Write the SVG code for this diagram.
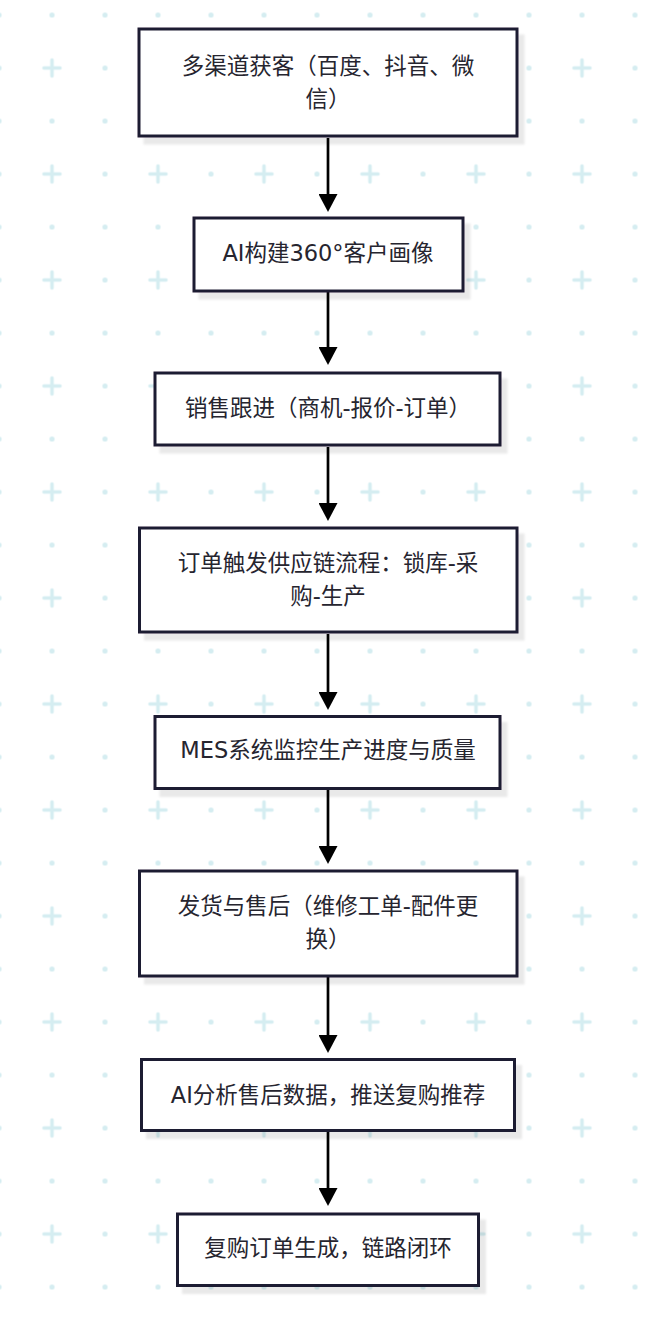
<svg xmlns="http://www.w3.org/2000/svg" width="648" height="1326" viewBox="0 0 648 1326">
<style>
.node rect{fill:#ffffff;stroke:#1f1d33;stroke-width:3;filter:url(#sh)}
.node text{font-family:"DejaVu Sans","Noto Sans CJK SC",sans-serif;font-size:22.5px;fill:#26252f;text-anchor:middle;dominant-baseline:central}
.edge{stroke:#000000;stroke-width:2.7;fill:none;marker-end:url(#arr)}
</style>
<defs>
<pattern id="bg" patternUnits="userSpaceOnUse" x="-27.5" y="-11.5" width="106" height="106">
<circle cx="26.5" cy="26.5" r="2.6" fill="#d5edf1"/>
<circle cx="79.5" cy="26.5" r="2.6" fill="#d5edf1"/>
<circle cx="26.5" cy="79.5" r="2.6" fill="#d5edf1"/>
<path d="M71.5,79.5 H87.5 M79.5,71.5 V87.5" stroke="#d5edf1" stroke-width="3.6" stroke-linecap="round"/>
</pattern>
<filter id="sh" x="-10%" y="-10%" width="130%" height="140%">
<feDropShadow dx="6" dy="7" stdDeviation="0.8" flood-color="#000000" flood-opacity="0.085"/>
</filter>
<marker id="arr" markerUnits="userSpaceOnUse" viewBox="0 0 18 19" refX="10" refY="9.5" markerWidth="18" markerHeight="19" orient="auto">
<path d="M0,0 L18,9.5 L0,19 z" fill="#000000"/>
</marker>
</defs>
<rect x="0" y="0" width="648" height="1326" fill="#ffffff"/>
<rect x="0" y="0" width="648" height="1326" fill="url(#bg)"/>
<g id="connectors">
<path class="edge" d="M328,138 V204"/>
<path class="edge" d="M328,292 V357"/>
<path class="edge" d="M328,447 V513"/>
<path class="edge" d="M328,634 V702"/>
<path class="edge" d="M328,790 V856"/>
<path class="edge" d="M328,977 V1045"/>
<path class="edge" d="M328,1132 V1198"/>
</g>
<g id="n1" class="node"><rect x="139" y="29" width="378" height="107"/><text x="328" y="66">多渠道获客（百度、抖音、微</text><text x="328" y="99">信）</text></g>
<g id="n2" class="node"><rect x="194" y="218" width="269" height="73"/><text x="328" y="253">AI构建360°客户画像</text></g>
<g id="n3" class="node"><rect x="155" y="373" width="345" height="72"/><text x="328" y="408">销售跟进（商机-报价-订单）</text></g>
<g id="n4" class="node"><rect x="139.5" y="528" width="377.5" height="104"/><text x="328" y="563">订单触发供应链流程：锁库-采</text><text x="328" y="596">购-生产</text></g>
<g id="n5" class="node"><rect x="155" y="716.5" width="345" height="72"/><text x="328" y="750">MES系统监控生产进度与质量</text></g>
<g id="n6" class="node"><rect x="139.5" y="871" width="377.5" height="105"/><text x="328" y="906">发货与售后（维修工单-配件更</text><text x="328" y="939">换）</text></g>
<g id="n7" class="node"><rect x="141.5" y="1059.5" width="373" height="71"/><text x="328" y="1095">AI分析售后数据，推送复购推荐</text></g>
<g id="n8" class="node"><rect x="177.5" y="1214" width="301" height="71.5"/><text x="328" y="1248">复购订单生成，链路闭环</text></g>
</svg>
